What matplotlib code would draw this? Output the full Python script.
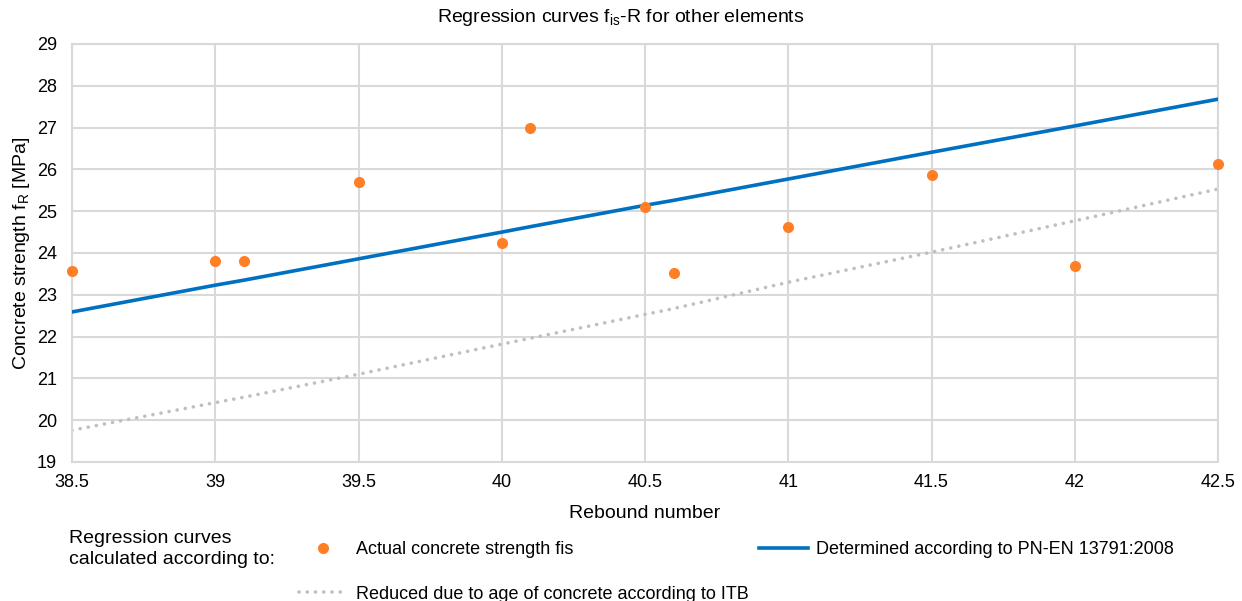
import matplotlib
matplotlib.use("Agg")
import matplotlib.pyplot as plt
from matplotlib.lines import Line2D

plt.rcParams['font.family'] = ['Liberation Sans', 'DejaVu Sans']
plt.rcParams['mathtext.fontset'] = 'custom'
plt.rcParams['mathtext.rm'] = 'Liberation Sans'

# Data
rebound = [38.5, 39.0, 39.1, 39.5, 40.0, 40.1, 40.5, 40.6, 41.0, 41.5, 42.0, 42.5]
actual_fis = [23.56, 23.82, 23.80, 25.70, 24.23, 27.00, 25.11, 23.52, 24.61, 25.86, 23.70, 26.12]
pn_en = [22.59, 23.23, 23.35, 23.86, 24.50, 24.63, 25.14, 25.26, 25.77, 26.41, 27.04, 27.68]
itb_reduced = [19.76, 20.42, 20.55, 21.10, 21.82, 21.96, 22.53, 22.67, 23.30, 24.02, 24.77, 25.53]

xticks = [38.5, 39, 39.5, 40, 40.5, 41, 41.5, 42, 42.5]
xtick_labels = ["38.5", "39", "39.5", "40", "40.5", "41", "41.5", "42", "42.5"]

orange = "#ff7f27"
blue = "#0070c0"
grey = "#bfbfbf"
dots = (0, (0.01, 2.27))

fig = plt.figure(figsize=(12.42, 6.01), dpi=100)
ax = fig.add_axes([0.058, 0.2313, 0.9227, 0.6955])

ax.plot(rebound, itb_reduced, color=grey, lw=2.6, ls=dots,
        dash_capstyle='round', zorder=2)
ax.plot(rebound, pn_en, color=blue, lw=2.6, zorder=3)
ax.scatter(rebound, actual_fis, s=64, color=orange, zorder=4, clip_on=False,
           linewidths=0)

ax.set_xlim(38.5, 42.5)
ax.set_ylim(19, 29)
ax.set_xticks(xticks)
ax.set_xticklabels(xtick_labels)
ax.set_yticks(range(19, 30))
ax.grid(True, color="#d9d9d9", lw=1.5)
ax.set_axisbelow(True)
for s in ax.spines.values():
    s.set_color("#d9d9d9")
    s.set_linewidth(1.5)
ax.tick_params(length=0, labelsize=13)
ax.tick_params(axis='y', pad=11)
ax.tick_params(axis='x', pad=9)

# title is centred on the figure, not the plot area
fig.text(0.5, 1 - 18 / 601,
         r"Regression curves f$_{\mathregular{is}}$-R for other elements",
         fontsize=14, ha='center', va='center')
ax.set_xlabel("Rebound number", fontsize=14, labelpad=10)
ax.set_ylabel(r"Concrete strength f$_{\mathregular{R}}$ [MPa]", fontsize=14, labelpad=3)

fig.text(69 / 1242, 1 - 549 / 601, "Regression curves\ncalculated according to:",
         fontsize=14, va='center', ha='left', linespacing=1.38)

h_act = Line2D([], [], ls='none', marker='o', ms=8, color=orange, mew=0)
h_red = Line2D([], [], color=grey, lw=2.6, ls=dots, dash_capstyle='round')
h_pn = Line2D([], [], color=blue, lw=2.6)
fig.legend([h_act, h_red, h_pn],
           ["Actual concrete strength fis",
            "Reduced due to age of concrete according to ITB",
            "Determined according to PN-EN 13791:2008"],
           loc='upper left', bbox_to_anchor=(299 / 1242, 1 - 541 / 601),
           ncol=2, frameon=False, fontsize=13, handlelength=2.7,
           handletextpad=0.45, labelspacing=1.53, columnspacing=0.6,
           borderpad=0, borderaxespad=0)

fig.savefig("out.png", dpi=100)
